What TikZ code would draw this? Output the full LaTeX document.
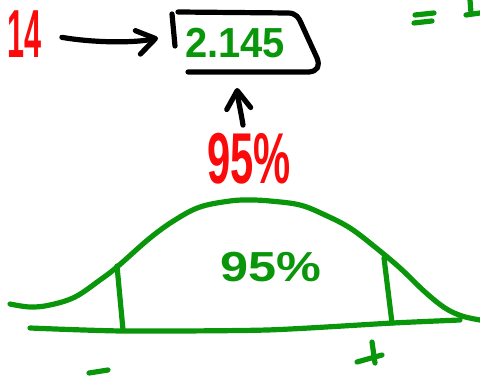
\documentclass[tikz,border=0pt]{standalone}
\usepackage{fontspec}
\setmainfont{Liberation Sans}
\usetikzlibrary{arrows.meta}
\definecolor{pen red}{RGB}{250,10,10}
\definecolor{pen green}{RGB}{10,150,10}
\tikzset{
  stroke/.style={line width=2.6pt,line cap=round,line join=round},
  blk/.style={stroke,black},
  grn/.style={stroke,pen green},
  redtxt/.style={text=pen red,inner sep=0pt},
  grntxt/.style={text=pen green,inner sep=0pt},
  barb/.style={-{Straight Barb[length=9pt,width=12pt,line width=2.6pt,round]}},
}
\begin{document}
\begin{tikzpicture}[x=0.5pt,y=-0.5pt]
\useasboundingbox (0,0) rectangle (480,378);
% red numbers
\node[redtxt,xscale=0.45,font=\fontsize{34}{34}\selectfont\bfseries] (n14) at (25,34) {14};
\node[redtxt,xscale=0.58,font=\fontsize{36}{36}\selectfont\bfseries] (pct) at (249,159) {95\%};
% boxed value
\node[grntxt,xscale=0.95,font=\fontsize{21}{21}\selectfont\bfseries] (val) at (235,43) {2.145};
\draw[blk] (175,46) -- (172,14);
\draw[blk] (178,12) -- (288,13) .. controls (296,13) and (299,18) .. (301,23)
  -- (317,58) .. controls (320,66) and (318,71) .. (309,72) -- (188,72);
\coordinate (boxL) at (158,38);
\coordinate (boxB) at (237,88);
% arrows
\draw[blk,barb,shorten <=10pt] (n14.east) .. controls (95,43) and (135,43) .. (boxL);
\draw[blk,barb] ([xshift=-3pt,yshift=4pt]pct.north) .. controls (241,112) and (238,100) .. (boxB);
% top right
\draw[grn] (415,15) -- (434,13);
\draw[grn] (414,23) -- (432,21);
\draw[grn] (470,0) -- (471,13);
\draw[grn] (466,15) -- (480,13);
% bell curve
\draw[grn] plot[smooth,tension=0.6] coordinates {(10,304) (30,307) (50,305) (75,297) (100,280) (117,267) (150,238) (175,220) (200,207) (230,201) (250,200) (270,201) (300,205) (325,215) (350,228) (375,247) (400,268) (425,292) (445,308) (462,316) (480,320)};
\draw[grn] plot[smooth,tension=0.4] coordinates {(30,328) (123,331) (267,330) (393,323) (460,320)};
\draw[grn] (117,266) -- (123,330);
\draw[grn] (384,258) -- (392,323);
\node[grntxt,xscale=1.2,font=\fontsize{21}{21}\selectfont\bfseries] (area) at (271,267) {95\%};
% signs
\draw[grn] (89,373) -- (108,370);
\draw[grn] (357,362) -- (382,355);
\draw[grn] (372,342) -- (375,363);
\end{tikzpicture}
\end{document}
